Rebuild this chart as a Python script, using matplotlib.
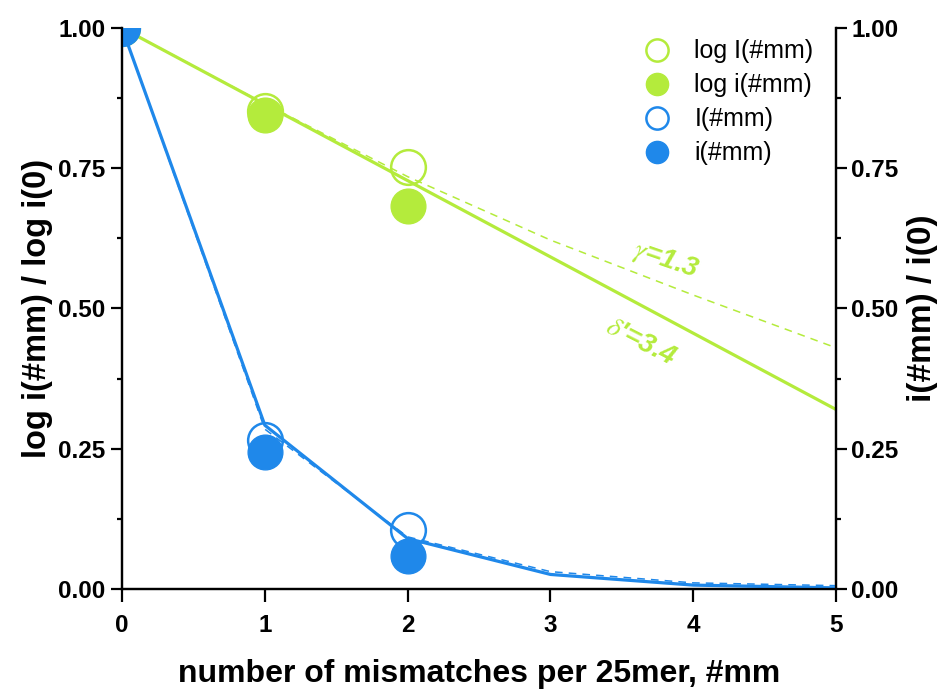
import numpy as np
import matplotlib.pyplot as plt
from matplotlib.ticker import MultipleLocator

plt.rcParams['font.family'] = ['Liberation Sans', 'DejaVu Sans']
plt.rcParams['mathtext.fontset'] = 'stix'

# measured points
mm = [0, 1, 2]
log_I = [1.0, 0.852, 0.752]
log_i = [1.0, 0.845, 0.683]
I_rel = [1.0, 0.266, 0.105]
i_rel = [1.0, 0.245, 0.058]

# model curves
mm_fit = [0, 1, 2, 3, 4, 5]
delta_line_x = [0, 5]
delta_line_y = [1.0, 0.32]
gamma_curve = [1.0, 0.865, 0.735, 0.622, 0.524, 0.43]
i_fit_solid = [1.0, 0.292, 0.090, 0.026, 0.007, 0.002]
i_fit_dashed = [1.0, 0.285, 0.093, 0.031, 0.011, 0.006]

green = '#b4eb3c'
blue = '#1f88ea'

fig = plt.figure(figsize=(9.4, 6.89), dpi=100)
ax = fig.add_axes([0.1298, 0.1451, 0.7596, 0.8143])

ax.plot(delta_line_x, delta_line_y, color=green, lw=2.3, zorder=2)
ax.plot(mm_fit, gamma_curve, color=green, lw=1.1, ls=(0, (5, 4)), zorder=2)
ax.plot(mm, log_I, 'o', ms=25, mfc='none', mec=green, mew=1.8, label='log I(#mm)', zorder=3)
ax.plot(mm, log_i, 'o', ms=25, mfc=green, mec=green, label='log i(#mm)', zorder=3)

ax.plot(mm_fit, i_fit_dashed, color=blue, lw=1.1, ls=(0, (5, 4)), zorder=4)
ax.plot(mm_fit, i_fit_solid, color=blue, lw=2.3, zorder=4)
ax.plot(mm, I_rel, 'o', ms=25, mfc='none', mec=blue, mew=1.8, label='I(#mm)', zorder=5)
ax.plot(mm, i_rel, 'o', ms=25, mfc=blue, mec=blue, label='i(#mm)', zorder=5)

ax.set_xlim(0, 5)
ax.set_ylim(0, 1)
ax.xaxis.set_major_locator(MultipleLocator(1))
ax.yaxis.set_major_locator(MultipleLocator(0.25))
ax.yaxis.set_minor_locator(MultipleLocator(0.125))
ax.yaxis.set_major_formatter(lambda v, p: f'{v:.2f}')

ax2 = ax.twinx()
ax2.set_ylim(0, 1)
ax2.yaxis.set_major_locator(MultipleLocator(0.25))
ax2.yaxis.set_minor_locator(MultipleLocator(0.125))
ax2.yaxis.set_major_formatter(lambda v, p: f'{v:.2f}')

for a in (ax, ax2):
    a.spines['top'].set_visible(False)
    for s in a.spines.values():
        s.set_linewidth(1.6)
    a.tick_params(which='major', direction='out', length=8, width=1.6,
                  labelsize=17.5, pad=4)
    a.tick_params(which='minor', direction='out', length=3.5, width=1.6)
    for lab in a.get_xticklabels() + a.get_yticklabels():
        lab.set_fontweight('bold')
ax.tick_params(axis='x', length=9, pad=9)
ax2.tick_params(axis='y', pad=3)

ax.set_xlabel('number of mismatches per 25mer, #mm', fontsize=23,
              fontweight='bold', labelpad=16)
ax.set_ylabel('log i(#mm) / log i(0)', fontsize=23.5, fontweight='bold', labelpad=4)
ax2.set_ylabel('i(#mm) / i(0)', fontsize=24, fontweight='bold', labelpad=6)

ax.text(3.81, 0.585, r'$\gamma$=1.3', color=green, fontsize=20, fontweight='bold',
        fontstyle='italic', rotation=-19, ha='center', va='center')
ax.text(3.63, 0.440, r"$\delta$'=3.4", color=green, fontsize=20, fontweight='bold',
        fontstyle='italic', rotation=-27, ha='center', va='center')

leg = ax.legend(loc='upper right', bbox_to_anchor=(1.0, 1.02), frameon=False,
                fontsize=18, markerscale=0.64, handletextpad=0.5, labelspacing=0.4)

fig.savefig('out.png', dpi=100)
